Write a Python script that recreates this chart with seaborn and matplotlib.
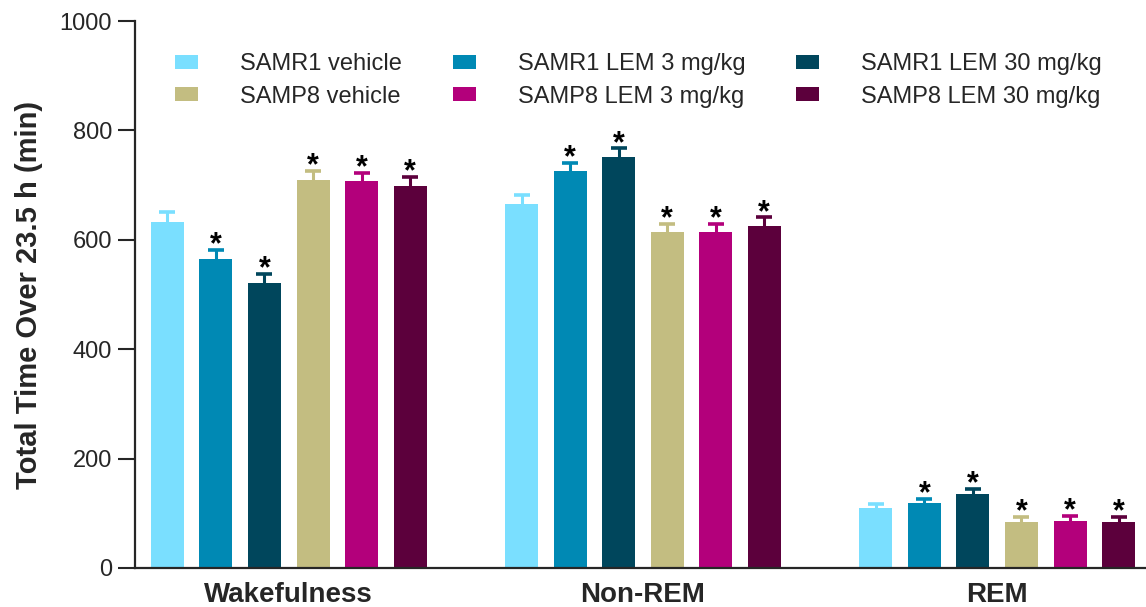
import numpy as np
import pandas as pd
import matplotlib
matplotlib.use("Agg")
import matplotlib.pyplot as plt
import seaborn as sns
from matplotlib.patches import Patch

# Sleep/wake states on the x axis
states = ["Wakefulness", "Non-REM", "REM"]

# Treatment groups (hue) and their colours
groups = ["SAMR1 vehicle", "SAMR1 LEM 3 mg/kg", "SAMR1 LEM 30 mg/kg",
          "SAMP8 vehicle", "SAMP8 LEM 3 mg/kg", "SAMP8 LEM 30 mg/kg"]
colors = ["#7ADFFF", "#0089B4", "#00465C", "#C3BD81", "#B3007B", "#5C003C"]

# Mean total time (min) over 23.5 h, one value per group
wake_mean = [632, 565, 521, 709, 707, 698]
nrem_mean = [665, 726, 751, 614, 614, 625]
rem_mean = [110, 119, 135, 84, 86, 84]

# SEM (min), drawn upward only
wake_sem = [18, 16, 16, 17, 16, 17]
nrem_sem = [16, 14, 16, 15, 15, 16]
rem_sem = [7, 8, 9, 9, 9, 10]

# Significance markers (*)
wake_sig = [False, True, True, True, True, True]
nrem_sig = [False, True, True, True, True, True]
rem_sig = [False, True, True, True, True, True]

means = {"Wakefulness": wake_mean, "Non-REM": nrem_mean, "REM": rem_mean}
sems = {"Wakefulness": wake_sem, "Non-REM": nrem_sem, "REM": rem_sem}
sigs = {"Wakefulness": wake_sig, "Non-REM": nrem_sig, "REM": rem_sig}

rows = []
for s in states:
    for g, m in zip(groups, means[s]):
        rows.append({"state": s, "group": g, "minutes": m})
df = pd.DataFrame(rows)

sns.set_style("ticks")
plt.rcParams["font.family"] = ["Liberation Sans", "DejaVu Sans"]

fig = plt.figure(figsize=(11.46, 6.07), dpi=100)
ax = fig.add_axes([135 / 1146, 39 / 607, 1 - 135 / 1146, (568 - 21) / 607])

sns.barplot(data=df, x="state", y="minutes", hue="group", order=states,
            hue_order=groups, palette=colors, saturation=1, width=0.822,
            gap=0.32, errorbar=None, linewidth=0, legend=False, ax=ax)

# One-sided SEM bars and significance stars
bar_sets = list(ax.containers)
for gi, cont in enumerate(bar_sets):
    for si, bar in enumerate(cont.patches):
        s = states[si]
        xc = bar.get_x() + bar.get_width() / 2
        top = bar.get_height()
        e = sems[s][gi]
        eb = ax.errorbar(xc, top, yerr=[[0], [e]], fmt="none",
                         ecolor=colors[gi], elinewidth=2.2, capsize=5.8,
                         capthick=2.6, zorder=3)
        for cap in eb[1]:
            if np.allclose(cap.get_ydata(), top):
                cap.set_visible(False)
        if sigs[s][gi]:
            ax.annotate("*", (xc, top + e), xytext=(0, -2.5),
                        textcoords="offset points", ha="center",
                        va="baseline", fontsize=22, fontweight="bold",
                        color="black", zorder=4)

ax.set_xlim(-0.434, 2.42)
ax.set_ylim(0, 1000)
ax.set_yticks(np.arange(0, 1001, 200))
ax.set_xlabel("")
ax.set_ylabel("Total Time Over 23.5 h (min)", fontsize=21, fontweight="bold",
              labelpad=12)
ax.tick_params(axis="y", length=12.5, width=1.5, labelsize=17, pad=4)
ax.tick_params(axis="x", length=0, labelsize=20, pad=10)
for lab in ax.get_xticklabels():
    lab.set_fontweight("bold")
sns.despine(ax=ax)
for sp in ("left", "bottom"):
    ax.spines[sp].set_linewidth(1.6)
ax.spines["bottom"].set_zorder(5)

# Legend filled row by row (matplotlib fills columns first)
order = [0, 3, 1, 4, 2, 5]
handles = [Patch(facecolor=colors[i], edgecolor="none") for i in order]
labels = [groups[i] for i in order]
fig.legend(handles, labels, ncol=3, loc="upper left",
           bbox_to_anchor=(175 / 1146, 1 - 53 / 607), frameon=False,
           fontsize=17, handlelength=0.97, handleheight=0.55,
           handletextpad=1.78, columnspacing=2.16, labelspacing=0.45,
           borderpad=0, borderaxespad=0)

fig.savefig("out.png", dpi=100)
